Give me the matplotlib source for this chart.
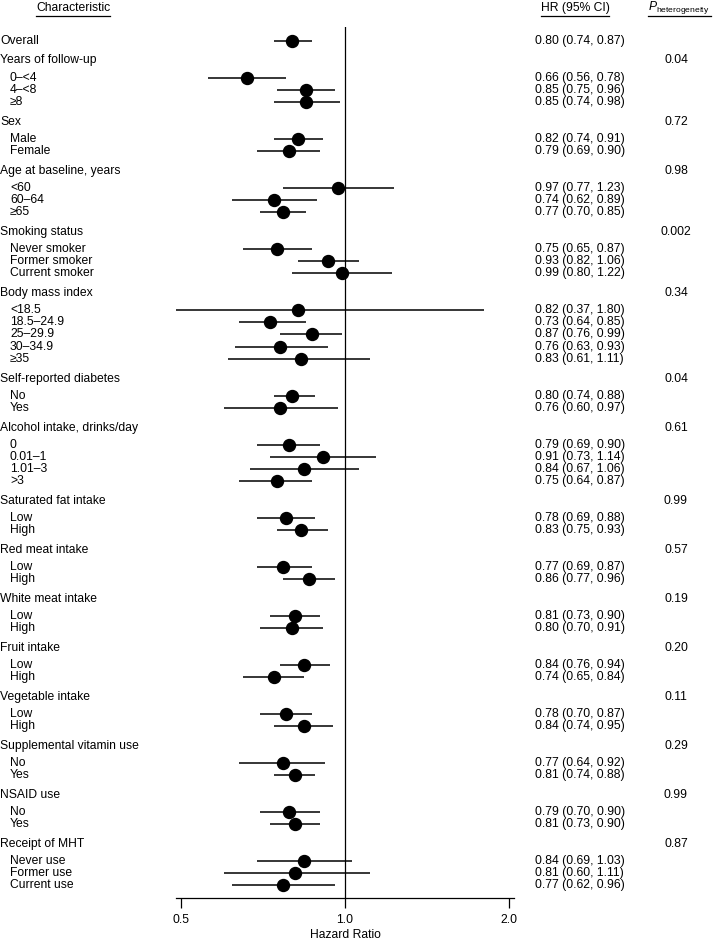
import matplotlib
matplotlib.use("Agg")
import matplotlib.pyplot as plt
from matplotlib.lines import Line2D
import matplotlib.transforms as mtransforms

plt.rcParams['font.family'] = ['Liberation Sans', 'DejaVu Sans']
plt.rcParams['mathtext.fontset'] = 'custom'
plt.rcParams['mathtext.rm'] = 'Liberation Sans'
plt.rcParams['mathtext.it'] = 'Liberation Sans:italic'

# overall estimate
overall_hr = [0.80, 0.74, 0.87]

# subgroup headers and heterogeneity p values
group_names = ["Years of follow-up", "Sex", "Age at baseline, years", "Smoking status",
               "Body mass index", "Self-reported diabetes", "Alcohol intake, drinks/day",
               "Saturated fat intake", "Red meat intake", "White meat intake", "Fruit intake",
               "Vegetable intake", "Supplemental vitamin use", "NSAID use", "Receipt of MHT"]
group_p = ["0.04", "0.72", "0.98", "0.002", "0.34", "0.04", "0.61", "0.99", "0.57",
           "0.19", "0.20", "0.11", "0.29", "0.99", "0.87"]

# levels within each group
group_levels = [
    ["0\u2013<4", "4\u2013<8", "\u22658"],
    ["Male", "Female"],
    ["<60", "60\u201364", "\u226565"],
    ["Never smoker", "Former smoker", "Current smoker"],
    ["<18.5", "18.5\u201324.9", "25\u201329.9", "30\u201334.9", "\u226535"],
    ["No", "Yes"],
    ["0", "0.01\u20131", "1.01\u20133", ">3"],
    ["Low", "High"],
    ["Low", "High"],
    ["Low", "High"],
    ["Low", "High"],
    ["Low", "High"],
    ["No", "Yes"],
    ["No", "Yes"],
    ["Never use", "Former use", "Current use"],
]
hr = [0.66, 0.85, 0.85, 0.82, 0.79, 0.97, 0.74, 0.77, 0.75, 0.93, 0.99,
      0.82, 0.73, 0.87, 0.76, 0.83, 0.80, 0.76, 0.79, 0.91, 0.84, 0.75,
      0.78, 0.83, 0.77, 0.86, 0.81, 0.80, 0.84, 0.74, 0.78, 0.84,
      0.77, 0.81, 0.79, 0.81, 0.84, 0.81, 0.77]
ci_lo = [0.56, 0.75, 0.74, 0.74, 0.69, 0.77, 0.62, 0.70, 0.65, 0.82, 0.80,
         0.37, 0.64, 0.76, 0.63, 0.61, 0.74, 0.60, 0.69, 0.73, 0.67, 0.64,
         0.69, 0.75, 0.69, 0.77, 0.73, 0.70, 0.76, 0.65, 0.70, 0.74,
         0.64, 0.74, 0.70, 0.73, 0.69, 0.60, 0.62]
ci_hi = [0.78, 0.96, 0.98, 0.91, 0.90, 1.23, 0.89, 0.85, 0.87, 1.06, 1.22,
         1.80, 0.85, 0.99, 0.93, 1.11, 0.88, 0.97, 0.90, 1.14, 1.06, 0.87,
         0.88, 0.93, 0.87, 0.96, 0.90, 0.91, 0.94, 0.84, 0.87, 0.95,
         0.92, 0.88, 0.90, 0.90, 1.03, 1.11, 0.96]

W, H = 713, 941
fig = plt.figure(figsize=(W / 100, H / 100), dpi=100)

# row layout (units of one item row)
gap_before_header = 1.62
header_to_item = 1.4
y = 0.0
header_y, item_y, item_lab = [], [], []
for gi, levels in enumerate(group_levels):
    y += gap_before_header
    header_y.append(y)
    y += header_to_item
    for k, lab in enumerate(levels):
        if k > 0:
            y += 1
        item_y.append(y)
        item_lab.append(lab)

unit = 12.19  # px per row
top_px, bottom_px, first_px = 26.7, 898, 40.7
ax = fig.add_axes([176 / W, 1 - bottom_px / H, (514 - 176) / W, (bottom_px - top_px) / H])
ax.set_xscale('log')
ax.set_xlim(0.490, 2.043)
ax.set_ylim((bottom_px - first_px) / unit, -(first_px - top_px) / unit)

ax.axvline(1.0, color='black', lw=0.9, zorder=1)
fs = 8.7
ms = 8.6

all_y = [0.0] + item_y
all_hr = [overall_hr[0]] + hr
all_lo = [overall_hr[1]] + ci_lo
all_hi = [overall_hr[2]] + ci_hi
for yy, h, lo, hi in zip(all_y, all_hr, all_lo, all_hi):
    ax.plot([lo, hi], [yy, yy], color='black', lw=1.1, solid_capstyle='butt', zorder=2)
    ax.plot(h, yy, 'o', color='black', ms=ms, zorder=3)

for s in ['top', 'right', 'left']:
    ax.spines[s].set_visible(False)
ax.spines['bottom'].set_linewidth(0.9)
ax.set_yticks([])
ax.set_xticks([0.5, 1.0, 2.0])
ax.set_xticklabels(["0.5", "1.0", "2.0"], fontsize=fs)
ax.xaxis.set_minor_locator(matplotlib.ticker.NullLocator())
ax.tick_params(axis='x', length=7.2, width=0.9, pad=4.5)
ax.set_xlabel("Hazard Ratio", fontsize=fs, labelpad=2)

tr = mtransforms.blended_transform_factory(fig.transFigure, ax.transData)

# left column labels
ax.text(0.5 / W, 0.0, "Overall", transform=tr, fontsize=fs, va='center', ha='left')
for gname, gy, p in zip(group_names, header_y, group_p):
    ax.text(0.5 / W, gy, gname, transform=tr, fontsize=fs, va='center', ha='left')
    ax.text(676 / W, gy, p, transform=tr, fontsize=fs, va='center', ha='center')
for lab, yy in zip(item_lab, item_y):
    ax.text(10 / W, yy, lab, transform=tr, fontsize=fs, va='center', ha='left')

# HR column
for yy, h, lo, hi in zip(all_y, all_hr, all_lo, all_hi):
    ax.text(535 / W, yy, f"{h:.2f} ({lo:.2f}, {hi:.2f})", transform=tr,
            fontsize=fs, va='center', ha='left')

# column headers with underlines
fig.text(73 / W, 1 - 8 / H, "Characteristic", fontsize=fs, ha='center', va='center')
fig.add_artist(Line2D([36 / W, 110 / W], [1 - 16 / H, 1 - 16 / H], color='black', lw=0.9))
fig.text(575 / W, 1 - 7.5 / H, "HR (95% CI)", fontsize=fs, ha='center', va='center')
fig.add_artist(Line2D([541 / W, 609 / W], [1 - 15.5 / H, 1 - 15.5 / H], color='black', lw=0.9))
fig.text(648 / W, 1 - 8 / H, r"$\mathit{P}_{\mathrm{heterogeneity}}$", fontsize=fs,
         ha='left', va='center')
fig.add_artist(Line2D([648 / W, 711 / W], [1 - 15.5 / H, 1 - 15.5 / H], color='black', lw=0.9))

fig.savefig("out.png", dpi=100)
